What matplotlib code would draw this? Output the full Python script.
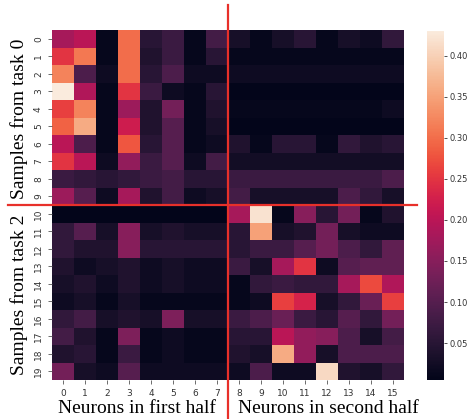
import numpy as np
import matplotlib
matplotlib.use("Agg")
import matplotlib.pyplot as plt
import seaborn as sns

# activation values, rows = samples (0-9 from task 0, 10-19 from task 2), cols = neurons
top_left = [
    [0.18, 0.20, 0.01, 0.30, 0.05, 0.07, 0.01, 0.08],
    [0.25, 0.31, 0.01, 0.30, 0.04, 0.07, 0.01, 0.05],
    [0.32, 0.09, 0.02, 0.30, 0.05, 0.09, 0.02, 0.02],
    [0.43, 0.19, 0.01, 0.25, 0.07, 0.02, 0.01, 0.05],
    [0.26, 0.32, 0.01, 0.17, 0.04, 0.13, 0.01, 0.04],
    [0.29, 0.36, 0.01, 0.22, 0.04, 0.10, 0.01, 0.03],
    [0.20, 0.09, 0.01, 0.28, 0.05, 0.10, 0.01, 0.02],
    [0.25, 0.20, 0.02, 0.16, 0.07, 0.10, 0.02, 0.08],
    [0.07, 0.06, 0.05, 0.06, 0.07, 0.08, 0.05, 0.05],
    [0.17, 0.10, 0.02, 0.18, 0.04, 0.08, 0.02, 0.03],
]
top_right = [
    [0.03, 0.01, 0.03, 0.05, 0.01, 0.03, 0.02, 0.06],
    [0.01, 0.01, 0.01, 0.01, 0.01, 0.01, 0.01, 0.01],
    [0.02, 0.02, 0.02, 0.02, 0.02, 0.02, 0.02, 0.02],
    [0.005, 0.005, 0.005, 0.005, 0.005, 0.005, 0.005, 0.005],
    [0.01, 0.01, 0.01, 0.01, 0.01, 0.01, 0.01, 0.02],
    [0.005, 0.005, 0.005, 0.005, 0.005, 0.005, 0.005, 0.005],
    [0.04, 0.01, 0.05, 0.05, 0.01, 0.06, 0.04, 0.05],
    [0.025, 0.025, 0.025, 0.025, 0.025, 0.025, 0.025, 0.025],
    [0.07, 0.07, 0.07, 0.07, 0.07, 0.07, 0.07, 0.09],
    [0.08, 0.03, 0.03, 0.03, 0.03, 0.09, 0.06, 0.03],
]
bottom_left = [
    [0.005, 0.005, 0.005, 0.005, 0.005, 0.005, 0.005, 0.005],
    [0.06, 0.10, 0.03, 0.15, 0.03, 0.04, 0.03, 0.03],
    [0.06, 0.04, 0.04, 0.15, 0.05, 0.05, 0.05, 0.05],
    [0.04, 0.02, 0.03, 0.04, 0.02, 0.03, 0.02, 0.02],
    [0.03, 0.04, 0.02, 0.04, 0.02, 0.03, 0.02, 0.02],
    [0.02, 0.03, 0.01, 0.03, 0.01, 0.01, 0.01, 0.01],
    [0.06, 0.08, 0.03, 0.04, 0.03, 0.14, 0.03, 0.03],
    [0.08, 0.04, 0.01, 0.14, 0.01, 0.02, 0.01, 0.01],
    [0.04, 0.05, 0.01, 0.07, 0.01, 0.02, 0.01, 0.01],
    [0.13, 0.03, 0.02, 0.10, 0.02, 0.02, 0.02, 0.02],
]
bottom_right = [
    [0.18, 0.42, 0.01, 0.15, 0.05, 0.13, 0.01, 0.04],
    [0.05, 0.35, 0.03, 0.04, 0.13, 0.03, 0.02, 0.02],
    [0.05, 0.07, 0.07, 0.10, 0.13, 0.09, 0.06, 0.11],
    [0.07, 0.03, 0.18, 0.25, 0.02, 0.10, 0.11, 0.11],
    [0.01, 0.06, 0.07, 0.06, 0.06, 0.18, 0.27, 0.19],
    [0.01, 0.02, 0.26, 0.23, 0.03, 0.06, 0.12, 0.26],
    [0.07, 0.09, 0.12, 0.07, 0.05, 0.10, 0.06, 0.13],
    [0.05, 0.05, 0.20, 0.16, 0.15, 0.09, 0.03, 0.08],
    [0.04, 0.03, 0.36, 0.16, 0.03, 0.09, 0.09, 0.09],
    [0.02, 0.09, 0.02, 0.02, 0.41, 0.04, 0.03, 0.06],
]
split_col = 8
split_row = 10

data = np.block([[np.array(top_left), np.array(top_right)],
                 [np.array(bottom_left), np.array(bottom_right)]])

fig = plt.figure(figsize=(4.73, 4.19), dpi=100)
ax = fig.add_axes([0.110, 0.093, 0.744, 0.835])
cax = fig.add_axes([0.903, 0.093, 0.036, 0.833])

sns.heatmap(data, ax=ax, cbar_ax=cax, cmap="rocket", vmin=0.005, vmax=0.43)
ax.tick_params(labelsize=6.5, length=3, width=0.6, color="#555555")
ax.set_xticklabels([str(i) for i in range(16)], rotation=0, color="#333333")
ax.set_yticklabels([str(i) for i in range(20)], rotation=90, va="center", color="#333333")
cax.set_yticks([0.05, 0.10, 0.15, 0.20, 0.25, 0.30, 0.35, 0.40])
cax.tick_params(labelsize=6, length=2, width=0.6, pad=1.5, colors="#333333")

red = "#e8302a"
ax.plot([split_col, split_col], [-1.43, 22.3], color=red, lw=1.6, clip_on=False)
ax.plot([-2.0, 16.6], [split_row, split_row], color=red, lw=1.6, clip_on=False)

serif = "Liberation Serif"
fig.text(0.040, 0.716, "Samples from task 0", rotation=90, ha="center", va="center",
         fontsize=14, family=serif)
fig.text(0.040, 0.296, "Samples from task 2", rotation=90, ha="center", va="center",
         fontsize=14, family=serif)
fig.text(0.290, 0.026, "Neurons in first half", ha="center", va="center",
         fontsize=14, family=serif)
fig.text(0.694, 0.026, "Neurons in second half", ha="center", va="center",
         fontsize=14, family=serif)

fig.savefig("out.png", dpi=100)
